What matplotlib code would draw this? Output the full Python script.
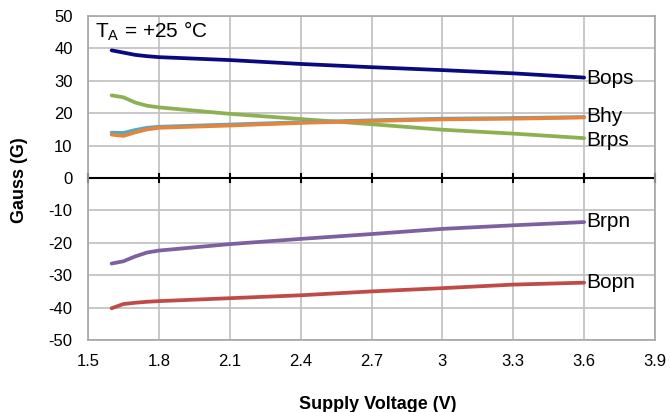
import matplotlib.pyplot as plt

plt.rcParams['font.family'] = ['Liberation Sans', 'DejaVu Sans']
plt.rcParams['axes.unicode_minus'] = False

# supply voltage samples (V)
volts = [1.6, 1.65, 1.7, 1.75, 1.8, 2.1, 2.4, 2.7, 3.0, 3.3, 3.6]

bops = [39.4, 38.7, 38.0, 37.6, 37.3, 36.4, 35.2, 34.2, 33.3, 32.3, 31.0]
brps = [25.5, 24.9, 23.3, 22.3, 21.8, 19.8, 18.2, 16.6, 14.9, 13.7, 12.3]
bhy_a = [14.0, 13.9, 14.8, 15.5, 15.8, 16.5, 17.2, 17.8, 18.3, 18.5, 18.8]
bhy = [13.4, 13.0, 14.1, 15.0, 15.5, 16.2, 17.0, 17.6, 18.1, 18.3, 18.7]
brpn = [-26.4, -25.7, -24.2, -23.0, -22.4, -20.4, -18.8, -17.3, -15.7, -14.6, -13.6]
bopn = [-40.2, -38.9, -38.5, -38.2, -38.0, -37.1, -36.2, -35.0, -34.0, -32.9, -32.3]

labels = ["Bops", "Bhy", "Brps", "Brpn", "Bopn"]
label_y = [30.6, 19.0, 11.6, -13.4, -32.3]

fig = plt.figure(figsize=(6.7, 4.12), dpi=100)
ax = fig.add_axes([88 / 670, 1 - 340 / 412, 567 / 670, 324 / 412])

lw = 2.7
ax.plot(volts, bops, color='#0A0A80', lw=lw, solid_capstyle='round')
ax.plot(volts, brps, color='#8DB152', lw=lw, solid_capstyle='round')
ax.plot(volts, bhy_a, color='#4BACC6', lw=lw, solid_capstyle='round')
ax.plot(volts, bhy, color='#E5843C', lw=lw, solid_capstyle='round')
ax.plot(volts, brpn, color='#7D60A0', lw=lw, solid_capstyle='round')
ax.plot(volts, bopn, color='#BE4B48', lw=lw, solid_capstyle='round')

for name, y in zip(labels, label_y):
    ax.text(3.61, y, name, fontsize=15, va='center', ha='left')

ax.text(1.53, 45.2, "T$_\\mathregular{A}$ = +25 °C", fontsize=15, va='center', ha='left')

ax.set_xlim(1.5, 3.9)
ax.set_ylim(-50, 50)
ax.set_xticks([1.5, 1.8, 2.1, 2.4, 2.7, 3.0, 3.3, 3.6, 3.9])
ax.set_xticklabels(["1.5", "1.8", "2.1", "2.4", "2.7", "3", "3.3", "3.6", "3.9"])
ax.set_yticks(range(-50, 51, 10))
ax.grid(True, color='#BFBFBF', lw=1.2)
ax.set_axisbelow(True)
for s in ax.spines.values():
    s.set_color('#A6A6A6')
    s.set_linewidth(1.2)

# zero line with tick marks, tick labels stay at the bottom
ax.axhline(0, color='black', lw=1.5)
for xv in ax.get_xticks():
    ax.plot([xv, xv], [-1.3, 1.3], color='black', lw=1.5, clip_on=False)
ax.tick_params(axis='both', length=0, labelsize=12)
ax.tick_params(axis='y', pad=11)
ax.tick_params(axis='x', pad=10)

fig.text(20 / 670, 1 - 180 / 412, "Gauss (G)", rotation=90, fontsize=13,
         fontweight='bold', ha='center', va='center')
fig.text(378 / 670, 1 - 396 / 412, "Supply Voltage (V)", fontsize=13,
         fontweight='bold', ha='center', va='top')

fig.savefig("out.png", dpi=100)
